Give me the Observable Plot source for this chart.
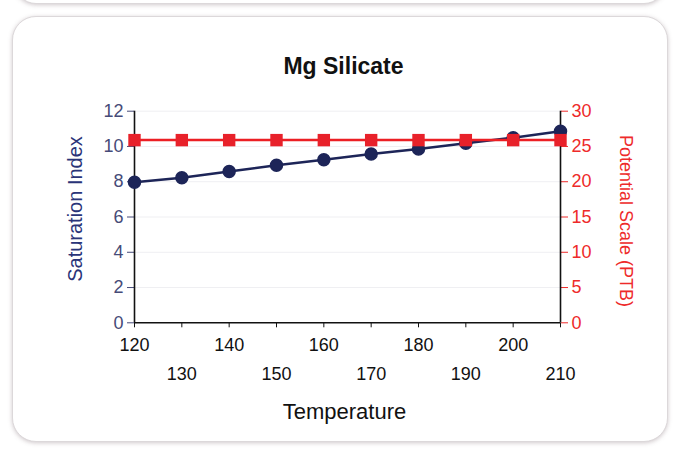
<!DOCTYPE html>
<html>
<head>
<meta charset="utf-8">
<script src="https://cdn.jsdelivr.net/npm/d3@7"></script>
<script src="https://cdn.jsdelivr.net/npm/@observablehq/plot@0.6"></script>
<style>
  html, body { margin: 0; padding: 0; background: #ffffff; }
  #wrap { position: relative; width: 677px; height: 452px; overflow: hidden; background: #fff; font-family: "Liberation Sans", Arial, sans-serif; }
  .card { position: absolute; background: #fff; border: 1px solid #dcd8da; border-radius: 24px; box-shadow: 0 1px 4px rgba(120,100,110,0.35); }
  #chart { position: absolute; left: 0; top: 0; }
</style>
</head>
<body>
<div id="wrap">
  <div class="card" style="left:14px; top:-40px; width:650px; height:42px;"></div>
  <div class="card" style="left:12px; top:16px; width:654px; height:424px;"></div>
  <div id="chart"></div>
</div>
<script>
const title = "Mg Silicate";
const xLabel = "Temperature";
const leftLabel = "Saturation Index";
const rightLabel = "Potential Scale (PTB)";
const temperature = [120, 130, 140, 150, 160, 170, 180, 190, 200, 210];
const saturationIndex = [7.97, 8.23, 8.58, 8.94, 9.25, 9.57, 9.86, 10.18, 10.5, 10.86];
const potentialScale = [25.9, 25.9, 25.9, 25.9, 25.9, 25.9, 25.9, 25.9, 25.9, 25.9];
const leftTicks = [0, 2, 4, 6, 8, 10, 12];
const rightTicks = [0, 5, 10, 15, 20, 25, 30];
const xTicksUpper = [120, 140, 160, 180, 200];
const xTicksLower = [130, 150, 170, 190, 210];

const leftMax = 12, rightMax = 30;
const toLeft = v => v * leftMax / rightMax;

const blue = temperature.map((t, i) => ({t, v: saturationIndex[i]}));
const red = temperature.map((t, i) => ({t, v: toLeft(potentialScale[i])}));

const W = 677, H = 452;
const mL = 134, mR = W - 560, mT = 110.7, mB = H - 322.3;

const chart = Plot.plot({
  width: W, height: H,
  marginLeft: mL, marginRight: mR, marginTop: mT, marginBottom: mB,
  style: {background: "transparent", fontFamily: "Liberation Sans, Arial, sans-serif", overflow: "visible"},
  x: {domain: [120, 210], axis: null},
  y: {domain: [0, 12], axis: null},
  marks: [
    Plot.gridY(leftTicks.slice(1), {stroke: "#efeff2", strokeOpacity: 1}),
    Plot.axisY({ticks: leftTicks, anchor: "left", tickSize: 7, tickPadding: 4, fontSize: 18, color: "#464b78", label: null, tickFormat: d => d}),
    Plot.axisY({ticks: rightTicks.map(toLeft), anchor: "right", tickSize: 7, tickPadding: 4, fontSize: 18, color: "#ee2a2a", label: null,
      tickFormat: d => rightTicks[rightTicks.map(toLeft).indexOf(d)]}),
    Plot.axisX({ticks: temperature, anchor: "bottom", tickSize: 5, tickPadding: 10, fontSize: 18, color: "#111", label: null,
      tickFormat: d => xTicksUpper.includes(d) ? d : ""}),
    Plot.axisX({ticks: xTicksLower, anchor: "bottom", tickSize: 0, tickPadding: 44, fontSize: 18, color: "#111", label: null, tickFormat: d => d}),
    Plot.ruleX([120, 210], {stroke: "#111", strokeWidth: 1.6}),
    Plot.ruleY([0], {stroke: "#111", strokeWidth: 1.6}),
    Plot.line(blue, {x: "t", y: "v", stroke: "#1d2558", strokeWidth: 2.5}),
    Plot.dot(blue, {x: "t", y: "v", r: 6, fill: "#1d2558", stroke: "#1d2558", symbol: "circle"}),
    Plot.line(red, {x: "t", y: "v", stroke: "#ec1f24", strokeWidth: 2.5}),
    Plot.dot(red, {x: "t", y: "v", r: 7, fill: "#e8212a", symbol: "square"}),
    Plot.text([title], {frameAnchor: "top", dx: -4, dy: -37, lineAnchor: "bottom", fontSize: 23, fontWeight: "bold", fill: "#111"}),
    Plot.text([xLabel], {frameAnchor: "bottom", dx: -3, dy: 96, lineAnchor: "bottom", fontSize: 22, fill: "#111"}),
    Plot.text([leftLabel], {frameAnchor: "left", textAnchor: "middle", dx: -59, dy: -8, rotate: -90, fontSize: 20, fill: "#2a3478"}),
    Plot.text([rightLabel], {frameAnchor: "right", textAnchor: "middle", dx: 65, dy: 4, rotate: 90, fontSize: 18, fill: "#ee2a2a"})
  ]
});
document.getElementById("chart").appendChild(chart);
</script>
</body>
</html>
